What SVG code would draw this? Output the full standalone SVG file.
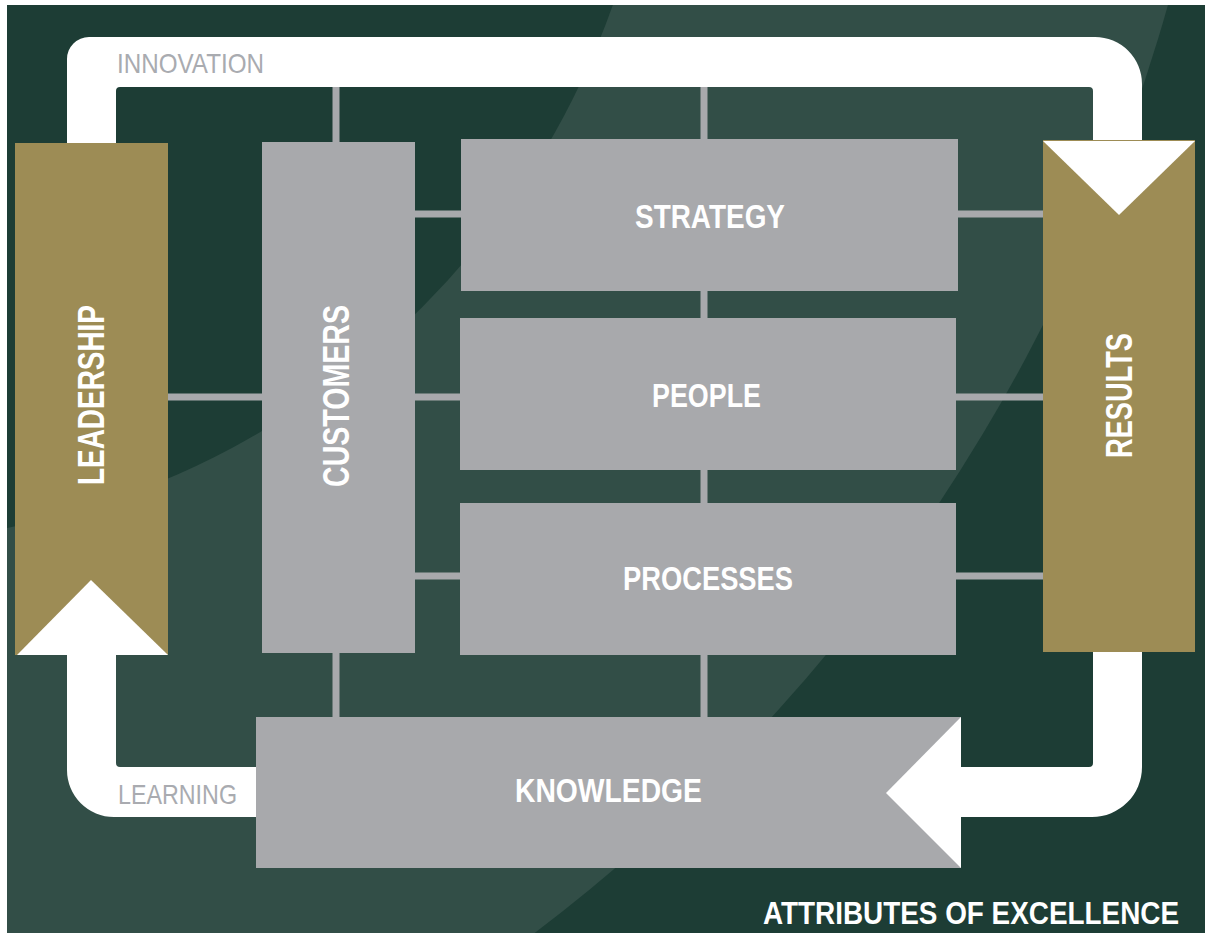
<svg xmlns="http://www.w3.org/2000/svg" width="1205" height="933" viewBox="0 0 1205 933">
  <defs>
    <style>
      .bg-dark { fill: #1d3d35; }
      .bg-light { fill: #324e47; }
      .gold { fill: #9d8c55; }
      .grey { fill: #a8a9ac; }
      .white { fill: #ffffff; }
      .conn { stroke: #a8a9ac; stroke-width: 7; fill: none; }
      .label { font-family: "Liberation Sans", Arial, sans-serif; font-weight: bold; fill: #ffffff; font-size: 34px; }
      .title { font-family: "Liberation Sans", Arial, sans-serif; font-weight: bold; fill: #ffffff; font-size: 32px; }
      .vlabel { font-family: "Liberation Sans", Arial, sans-serif; font-weight: bold; fill: #ffffff; font-size: 37.5px; }
      .loop-label { font-family: "Liberation Sans", Arial, sans-serif; fill: #a9abb0; font-size: 28px; }
    </style>
    <clipPath id="area">
      <rect x="7" y="5" width="1198" height="928"/>
    </clipPath>
  </defs>

  <rect x="0" y="0" width="1205" height="933" fill="#ffffff"/>
  <g id="background" clip-path="url(#area)">
    <rect class="bg-dark" x="0" y="0" width="1205" height="933"/>
    <circle class="bg-light" cx="-529" cy="-473" r="1763"/>
    <circle class="bg-dark" cx="-148" cy="-264" r="807"/>
  </g>

  <g id="loop">
    <path class="white" fill-rule="evenodd" d="M89,37 H1095 A47,47 0 0 1 1142,84 V767 A50,50 0 0 1 1092,817 H114 A47,47 0 0 1 67,770 V59 A22,22 0 0 1 89,37 Z M120,87 H1089 A4,4 0 0 1 1093,91 V763 A4,4 0 0 1 1089,767 H120 A4,4 0 0 1 116,763 V91 A4,4 0 0 1 120,87 Z"/>
    <text class="loop-label" x="117" y="73" textLength="147" lengthAdjust="spacingAndGlyphs">INNOVATION</text>
    <text class="loop-label" x="118" y="804" textLength="119" lengthAdjust="spacingAndGlyphs">LEARNING</text>
  </g>

  <g id="connectors">
    <line class="conn" x1="336" y1="87" x2="336" y2="142"/>
    <line class="conn" x1="336" y1="653" x2="336" y2="717"/>
    <line class="conn" x1="704" y1="87" x2="704" y2="139"/>
    <line class="conn" x1="704" y1="291" x2="704" y2="318"/>
    <line class="conn" x1="704" y1="470" x2="704" y2="503"/>
    <line class="conn" x1="704" y1="655" x2="704" y2="717"/>
    <line class="conn" x1="415" y1="214" x2="461" y2="214"/>
    <line class="conn" x1="958" y1="214" x2="1043" y2="214"/>
    <line class="conn" x1="168" y1="397" x2="262" y2="397"/>
    <line class="conn" x1="415" y1="397" x2="460" y2="397"/>
    <line class="conn" x1="956" y1="397" x2="1043" y2="397"/>
    <line class="conn" x1="415" y1="576" x2="460" y2="576"/>
    <line class="conn" x1="956" y1="576" x2="1043" y2="576"/>
  </g>

  <g id="leadership">
    <rect class="gold" x="15" y="143" width="153" height="512"/>
    <polygon class="white" points="17,655 91,580 168,655"/>
    <text class="vlabel" transform="translate(104,395) rotate(-90)" text-anchor="middle" textLength="180" lengthAdjust="spacingAndGlyphs">LEADERSHIP</text>
  </g>

  <g id="customers">
    <rect class="grey" x="262" y="142" width="153" height="511"/>
    <text class="vlabel" transform="translate(349,396) rotate(-90)" text-anchor="middle" textLength="182" lengthAdjust="spacingAndGlyphs">CUSTOMERS</text>
  </g>

  <g id="strategy">
    <rect class="grey" x="461" y="139" width="497" height="152"/>
    <text class="label" x="710" y="228" text-anchor="middle" textLength="150" lengthAdjust="spacingAndGlyphs">STRATEGY</text>
  </g>

  <g id="people">
    <rect class="grey" x="460" y="318" width="496" height="152"/>
    <text class="label" x="706.5" y="407" text-anchor="middle" textLength="109" lengthAdjust="spacingAndGlyphs">PEOPLE</text>
  </g>

  <g id="processes">
    <rect class="grey" x="460" y="503" width="496" height="152"/>
    <text class="label" x="708" y="590" text-anchor="middle" textLength="170" lengthAdjust="spacingAndGlyphs">PROCESSES</text>
  </g>

  <g id="results">
    <rect class="gold" x="1043" y="140" width="152" height="512"/>
    <polygon class="white" points="1043,141 1195,141 1119,215"/>
    <text class="vlabel" transform="translate(1132,395.5) rotate(-90)" text-anchor="middle" textLength="125" lengthAdjust="spacingAndGlyphs">RESULTS</text>
  </g>

  <g id="knowledge">
    <rect class="grey" x="256" y="717" width="705" height="151"/>
    <polygon class="white" points="961,717 886,793 961,868"/>
    <text class="label" x="608.5" y="802" text-anchor="middle" textLength="187" lengthAdjust="spacingAndGlyphs">KNOWLEDGE</text>
  </g>

  <g id="title">
    <text class="title" x="763" y="923.5" textLength="416" lengthAdjust="spacingAndGlyphs">ATTRIBUTES OF EXCELLENCE</text>
  </g>
</svg>
